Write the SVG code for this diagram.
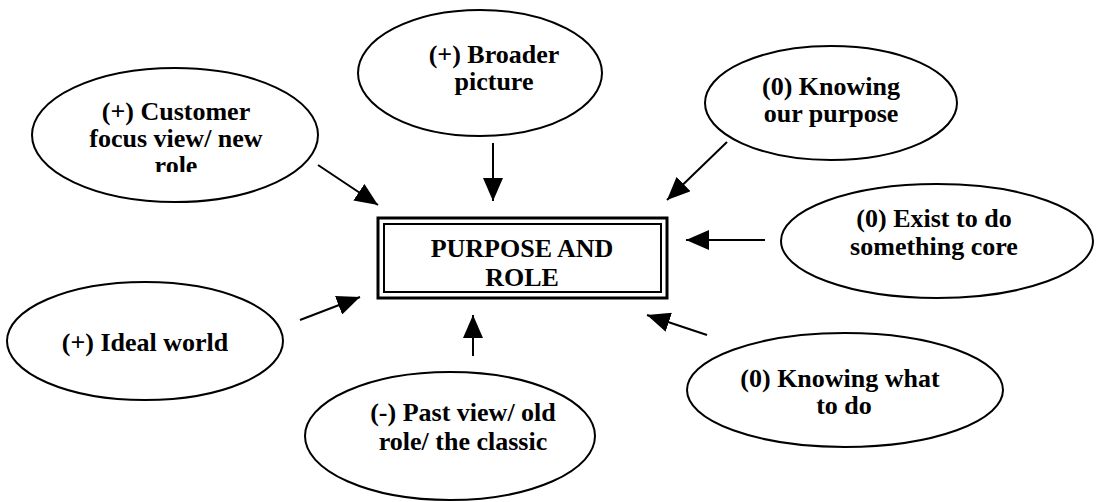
<svg xmlns="http://www.w3.org/2000/svg" width="1096" height="502" viewBox="0 0 1096 502">
  <style>
    .oval { fill: #fff; stroke: #000; stroke-width: 2; }
    .lbl { font-family: "Liberation Serif", "Times New Roman", serif; font-weight: bold; font-size: 26px; fill: #000; text-anchor: middle; }
    .edge { stroke: #000; stroke-width: 2; fill: none; marker-end: url(#head); }
  </style>
  <defs>
    <marker id="head" markerUnits="userSpaceOnUse" markerWidth="23" markerHeight="20" refX="23" refY="10" orient="auto">
      <path d="M0,0 L23,10 L0,20 z" fill="#000"/>
    </marker>
    <clipPath id="clip-customer">
      <rect x="0" y="0" width="400" height="172"/>
    </clipPath>
  </defs>
  <rect width="1096" height="502" fill="#fff"/>

  <!-- connectors -->
  <g id="connectors">
    <line class="edge" x1="318" y1="165" x2="378" y2="205"/>
    <line class="edge" x1="493" y1="143" x2="493" y2="201"/>
    <line class="edge" x1="727" y1="142" x2="667" y2="200"/>
    <line class="edge" x1="765" y1="240" x2="686" y2="240"/>
    <line class="edge" x1="707" y1="335" x2="647" y2="315"/>
    <line class="edge" x1="473" y1="356" x2="473" y2="315"/>
    <line class="edge" x1="300" y1="320" x2="360" y2="297"/>
  </g>

  <!-- central box -->
  <g id="purpose-role">
    <rect x="378" y="218" width="289" height="80" fill="#fff" stroke="#000" stroke-width="3"/>
    <rect x="384" y="224" width="277" height="68" fill="none" stroke="#000" stroke-width="2"/>
    <text class="lbl" x="522" y="257">PURPOSE AND</text>
    <text class="lbl" x="522" y="286">ROLE</text>
  </g>

  <g id="customer-focus">
    <ellipse class="oval" cx="175" cy="135" rx="143" ry="67"/>
    <g clip-path="url(#clip-customer)">
      <text class="lbl" x="176" y="120">(+) Customer</text>
      <text class="lbl" x="176" y="147">focus view/ new</text>
      <text class="lbl" x="176" y="174">role</text>
    </g>
  </g>

  <g id="broader-picture">
    <ellipse class="oval" cx="480" cy="73" rx="122" ry="63"/>
    <text class="lbl" x="494" y="63">(+) Broader</text>
    <text class="lbl" x="494" y="90">picture</text>
  </g>

  <g id="knowing-purpose">
    <ellipse class="oval" cx="831" cy="103" rx="126" ry="57"/>
    <text class="lbl" x="831" y="95">(0) Knowing</text>
    <text class="lbl" x="831" y="122">our purpose</text>
  </g>

  <g id="exist-core">
    <ellipse class="oval" cx="937" cy="241" rx="156" ry="57"/>
    <text class="lbl" x="934" y="227">(0) Exist to do</text>
    <text class="lbl" x="934" y="255">something core</text>
  </g>

  <g id="ideal-world">
    <ellipse class="oval" cx="145" cy="341" rx="138" ry="59"/>
    <text class="lbl" x="145" y="351">(+) Ideal world</text>
  </g>

  <g id="past-view">
    <ellipse class="oval" cx="450" cy="436" rx="145" ry="64"/>
    <text class="lbl" x="463" y="421">(-) Past view/ old</text>
    <text class="lbl" x="463" y="450">role/ the classic</text>
  </g>

  <g id="knowing-what">
    <ellipse class="oval" cx="845" cy="390" rx="158" ry="57"/>
    <text class="lbl" x="840" y="387">(0) Knowing what</text>
    <text class="lbl" x="844" y="414">to do</text>
  </g>
</svg>
